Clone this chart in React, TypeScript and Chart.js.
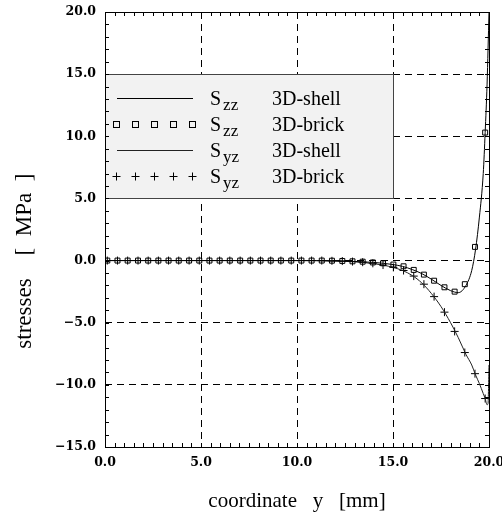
import React, { useEffect, useRef } from "react";
import { Chart, registerables } from "chart.js";

Chart.register(...registerables);

// ---- data ----
const xTickValues = [0, 5, 10, 15, 20];
const yTickValues = [-15, -10, -5, 0, 5, 10, 15, 20];

const brickX = [
  0.12, 0.65, 1.18, 1.72, 2.25, 2.78, 3.31, 3.84, 4.38, 4.91, 5.44, 5.97, 6.5,
  7.04, 7.57, 8.1, 8.63, 9.16, 9.7, 10.23, 10.76, 11.29, 11.82, 12.36, 12.89,
  13.42, 13.95, 14.48, 15.02, 15.55, 16.08, 16.61, 17.14, 17.68, 18.21, 18.74,
  19.27, 19.8,
];
const brickSzz = [
  0, 0, 0, 0, 0, 0, 0, 0, 0, 0, 0, 0, 0, 0, 0, 0, 0, 0, 0, 0, 0, 0, -0.01,
  -0.03, -0.06, -0.09, -0.15, -0.22, -0.32, -0.46, -0.75, -1.13, -1.62, -2.15,
  -2.5, -1.9, 1.1, 10.3,
];
const brickSyz = [
  0, 0, 0, 0, 0, 0, 0, 0, 0, 0, 0, 0, 0, 0, 0, 0, 0, 0, 0, 0, 0, 0, -0.02,
  -0.04, -0.08, -0.13, -0.22, -0.36, -0.55, -0.8, -1.25, -1.9, -2.9, -4.15,
  -5.7, -7.4, -9.1, -11.1,
];

const shellX = [
  0, 1, 2, 3, 4, 5, 6, 7, 8, 9, 10, 11, 12, 13, 14, 14.5, 15, 15.5, 16, 16.5,
  17, 17.5, 18, 18.4, 18.8, 19.1, 19.3, 19.5, 19.7, 19.8, 19.9, 19.95, 20,
];
const shellSzz = [
  0, 0, 0, 0, 0, 0, 0, 0, 0, 0, 0, 0, -0.03, -0.07, -0.15, -0.22, -0.32, -0.47,
  -0.72, -1.05, -1.5, -2.0, -2.42, -2.58, -2.0, -0.8, 0.9, 3.5, 7.0, 10.3, 14.2,
  17.0, 20.0,
];
const shellSyz = [
  0, 0, 0, 0, 0, 0, 0, 0, 0, 0, 0, -0.01, -0.04, -0.1, -0.25, -0.37, -0.55,
  -0.8, -1.2, -1.8, -2.65, -3.7, -5.0, -6.2, -7.55, -8.4, -9.2, -9.9, -10.7,
  -11.1, -11.6, -11.5, -8.4,
];

const seriesSymbol = ["S", "S", "S", "S"];
const seriesSub = ["zz", "zz", "yz", "yz"];
const seriesModel = ["3D-shell", "3D-brick", "3D-shell", "3D-brick"];

const xTitle = "coordinate   y   [mm]";
const yTitle = "stresses    [  MPa  ]";

const toPts = (xs: number[], ys: number[]) => xs.map((x, i) => ({ x, y: ys[i] }));
const fmt = (v: number) => (v < 0 ? "\u2212" : "") + Math.abs(v).toFixed(1);

const framePlugin = {
  id: "frameAndLegend",
  afterDatasetsDraw(chart: any) {
    const { ctx, chartArea, scales } = chart;
    const xs = scales.x;
    const ys = scales.y;
    // legend box
    const left = chartArea.left;
    const top = ys.getPixelForValue(15);
    const right = xs.getPixelForValue(15);
    const bottom = ys.getPixelForValue(5);
    ctx.save();
    ctx.fillStyle = "#f2f2f2";
    ctx.fillRect(left, top, right - left, bottom - top);
    ctx.strokeStyle = "#444";
    ctx.lineWidth = 1;
    ctx.strokeRect(Math.round(left) + 0.5, Math.round(top) + 0.5, Math.round(right - left), Math.round(bottom - top));
    const rowH = 26;
    chart.data.datasets.forEach((ds: any, i: number) => {
      const cy = Math.round(top + 24 + i * rowH) + 0.5;
      ctx.strokeStyle = ds.borderColor;
      ctx.fillStyle = "#000";
      if (ds.showLine !== false) {
        ctx.lineWidth = 1;
        ctx.beginPath();
        ctx.moveTo(left + 12, cy);
        ctx.lineTo(left + 88, cy);
        ctx.stroke();
      } else {
        for (let k = 0; k < 5; k++) {
          const px = Math.round(left + 11 + k * 19) + 0.5;
          ctx.lineWidth = 1;
          ctx.beginPath();
          if (ds.pointStyle === "rect") {
            ctx.strokeRect(px - 3, cy - 3, 6, 6);
          } else {
            ctx.moveTo(px - 4, cy);
            ctx.lineTo(px + 4, cy);
            ctx.moveTo(px, cy - 4);
            ctx.lineTo(px, cy + 4);
            ctx.stroke();
          }
        }
      }
      ctx.fillStyle = "#000";
      ctx.textBaseline = "alphabetic";
      ctx.textAlign = "left";
      ctx.font = '20px "Liberation Serif"';
      const base = cy + 6;
      const sx = left + 105;
      ctx.fillText(seriesSymbol[i], sx, base);
      const sw = ctx.measureText(seriesSymbol[i]).width;
      ctx.font = '17px "Liberation Serif"';
      ctx.fillText(seriesSub[i], sx + sw + 2, base + 5);
      ctx.font = '20px "Liberation Serif"';
      ctx.fillText(seriesModel[i], left + 167, base);
    });
    ctx.restore();
  },
  afterDraw(chart: any) {
    const { ctx, chartArea, scales } = chart;
    const xs = scales.x;
    const ys = scales.y;
    const { left, right, top, bottom } = chartArea;
    ctx.save();
    ctx.strokeStyle = "#000";
    ctx.lineWidth = 1;
    ctx.strokeRect(Math.round(left) + 0.5, Math.round(top) + 0.5, Math.round(right - left), Math.round(bottom - top));
    ctx.beginPath();
    for (let v = -15; v <= 20; v += 1) {
      const py = Math.round(ys.getPixelForValue(v)) + 0.5;
      ctx.moveTo(left, py);
      ctx.lineTo(left + 4, py);
      ctx.moveTo(right, py);
      ctx.lineTo(right - 4, py);
    }
    for (let v = 0; v <= 20; v += 0.5) {
      const px = Math.round(xs.getPixelForValue(v)) + 0.5;
      ctx.moveTo(px, bottom);
      ctx.lineTo(px, bottom - 4);
      ctx.moveTo(px, top);
      ctx.lineTo(px, top + 4);
    }
    ctx.stroke();
    ctx.restore();
  },
};

export default function App() {
  const ref = useRef<HTMLCanvasElement | null>(null);
  useEffect(() => {
    if (!ref.current) return;
    const tickFont = { family: '"DejaVu Serif"', weight: "bold" as const, size: 12.5 };
    const chart = new Chart(ref.current, {
      type: "scatter",
      data: {
        datasets: [
          {
            label: "S_zz 3D-shell",
            data: toPts(shellX, shellSzz),
            showLine: true,
            borderColor: "#000",
            borderWidth: 1,
            pointRadius: 0,
            cubicInterpolationMode: "monotone",
          },
          {
            label: "S_zz 3D-brick",
            data: toPts(brickX, brickSzz),
            showLine: false,
            borderColor: "#000",
            backgroundColor: "rgba(0,0,0,0)",
            borderWidth: 1,
            pointStyle: "rect",
            pointRadius: 3.5,
          },
          {
            label: "S_yz 3D-shell",
            data: toPts(shellX, shellSyz),
            showLine: true,
            borderColor: "#222",
            borderWidth: 1,
            pointRadius: 0,
            cubicInterpolationMode: "monotone",
          },
          {
            label: "S_yz 3D-brick",
            data: toPts(brickX, brickSyz),
            showLine: false,
            borderColor: "#000",
            backgroundColor: "rgba(0,0,0,0)",
            borderWidth: 1,
            pointStyle: "cross",
            pointRadius: 4,
          },
        ],
      },
      options: {
        responsive: false,
        animation: false,
        layout: { padding: { top: 12, right: 13, left: 0, bottom: 0 } },
        plugins: { legend: { display: false }, tooltip: { enabled: false } },
        scales: {
          x: {
            type: "linear",
            min: 0,
            max: 20,
            afterFit: (s: any) => {
              s.height = 77;
              s.paddingLeft = 0;
              s.paddingRight = 0;
            },
            afterBuildTicks: (s: any) => {
              s.ticks = xTickValues.map((v) => ({ value: v }));
            },
            ticks: {
              padding: 8,
              color: "#000",
              font: tickFont,
              maxRotation: 0,
              callback: (v: any) => fmt(Number(v)),
            },
            grid: { color: "#000", lineWidth: 1, drawTicks: false },
            border: { display: false, dash: [7, 5] },
            title: {
              display: true,
              text: xTitle,
              color: "#000",
              font: { family: '"Liberation Serif"', size: 21 },
              padding: { top: 0, bottom: 10 },
            },
          },
          y: {
            type: "linear",
            min: -15,
            max: 20,
            afterFit: (s: any) => {
              s.width = 105;
              s.paddingTop = 0;
              s.paddingBottom = 0;
            },
            afterBuildTicks: (s: any) => {
              s.ticks = yTickValues.map((v) => ({ value: v }));
            },
            ticks: {
              padding: 9,
              color: "#000",
              font: tickFont,
              callback: (v: any) => fmt(Number(v)),
            },
            grid: { color: "#000", lineWidth: 1, drawTicks: false },
            border: { display: false, dash: [7, 5] },
            title: {
              display: true,
              text: yTitle + "           ",
              color: "#000",
              font: { family: '"Liberation Serif"', size: 23 },
              padding: { top: 11, bottom: 0 },
            },
          },
        },
      },
      plugins: [framePlugin],
    } as any);
    return () => chart.destroy();
  }, []);
  return (
    <div style={{ position: "absolute", left: 0, top: 0, width: 502, height: 524 }}>
      <canvas ref={ref} width={502} height={524} />
    </div>
  );
}
